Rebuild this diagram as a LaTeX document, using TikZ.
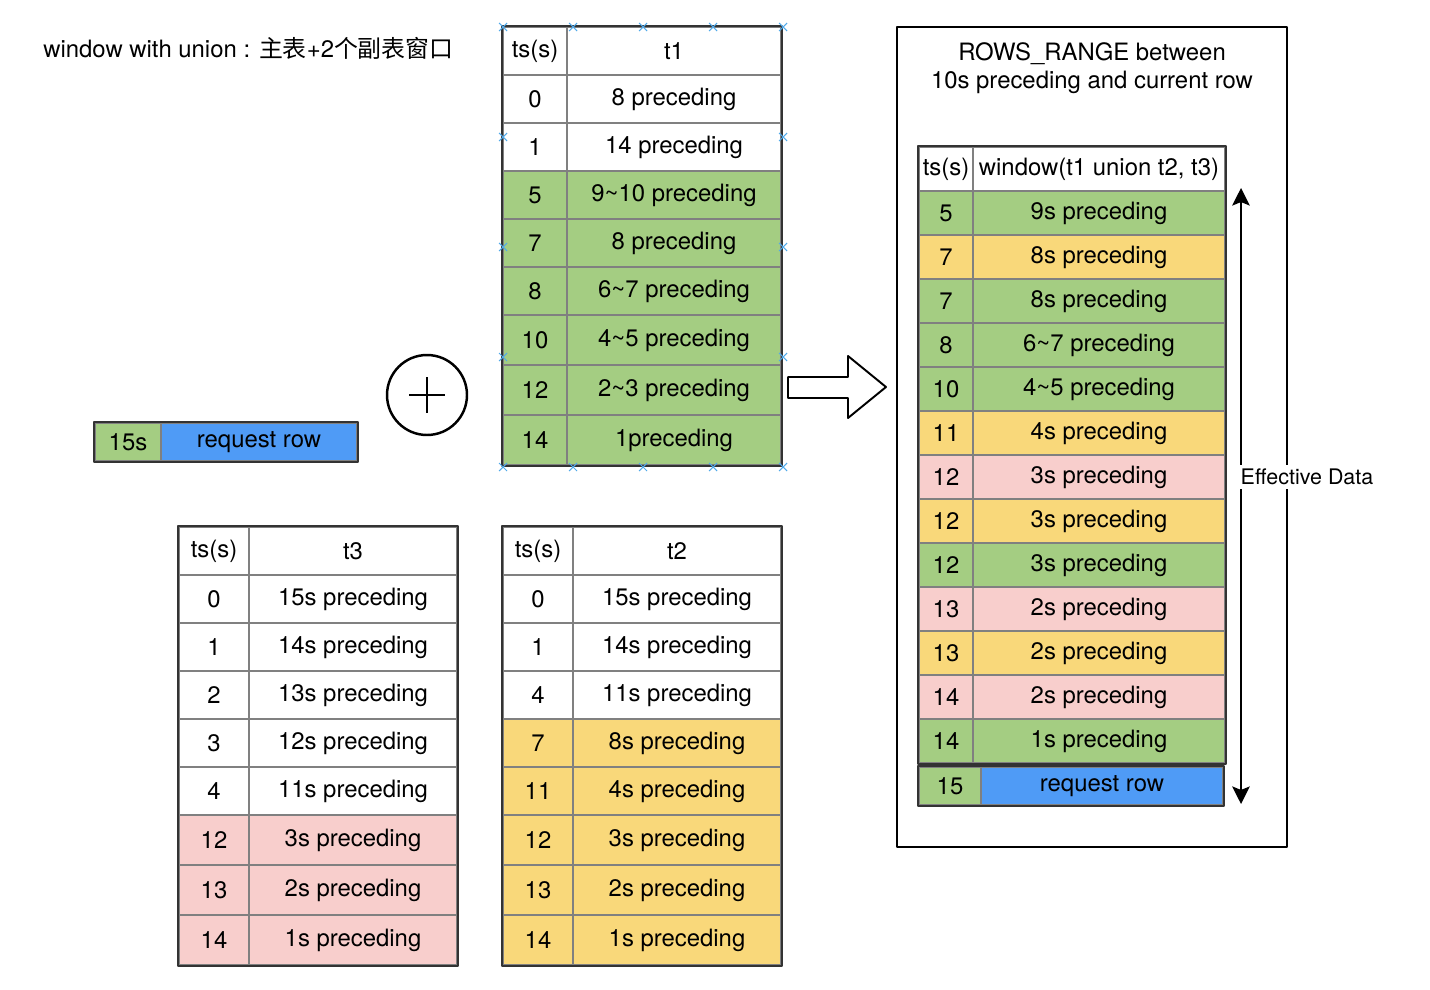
\documentclass[tikz,border=0pt]{standalone}
\usepackage{fontspec}
\setmainfont{TeX Gyre Heros}
\newfontfamily\cjk{Noto Sans CJK SC}
\usepackage{xcolor}
\usetikzlibrary{arrows.meta,calc,positioning}

\definecolor{cellgreen}{RGB}{164,205,130}
\definecolor{cellyellow}{RGB}{249,216,122}
\definecolor{cellpink}{RGB}{248,206,204}
\definecolor{cellblue}{RGB}{79,155,246}
\definecolor{gridgray}{RGB}{128,128,128}
\definecolor{edgedark}{RGB}{51,51,51}
\definecolor{handleblue}{RGB}{80,170,235}

\begin{document}
\begin{tikzpicture}[x=0.02cm,y=-0.02cm,>=Stealth,line join=round,
  font=\fontsize{13.6}{16}\selectfont,
  cell/.style={draw=gridgray,line width=0.8pt,inner sep=0pt,fill=white,minimum height=0.96cm},
  tall/.style={minimum height=1cm},
  gfill/.style={fill=cellgreen},
  yfill/.style={fill=cellyellow},
  pfill/.style={fill=cellpink},
  bfill/.style={fill=cellblue},
  outer/.style={draw=edgedark,line width=1.1pt},
  handle/.style={draw=handleblue,line width=0.6pt}]

  \useasboundingbox (0,0) rectangle (1430,990);

  % title
  \node[anchor=west,inner sep=0pt] (title) at (43,48) {window with union : {\cjk 主表}+2{\cjk 个副表窗口}};

  %% ---------------------------------------------------------------
  %% table t1 (main table)
  %% ---------------------------------------------------------------
  \begin{scope}[tscol/.style={cell,minimum width=1.28cm},valcol/.style={cell,minimum width=4.28cm}]
    \node[tscol] (t1a0) at (535,51) {ts(s)};
    \node[valcol] (t1b0) at (674,51) {t1};
    \node[tscol] (t1a1) at (535,99) {0};
    \node[valcol] (t1b1) at (674,99) {8 preceding};
    \node[tscol] (t1a2) at (535,147) {1};
    \node[valcol] (t1b2) at (674,147) {14 preceding};
    \node[tscol,gfill] (t1a3) at (535,195) {5};
    \node[valcol,gfill] (t1b3) at (674,195) {9\textasciitilde10 preceding};
    \node[tscol,gfill] (t1a4) at (535,243) {7};
    \node[valcol,gfill] (t1b4) at (674,243) {8 preceding};
    \node[tscol,gfill] (t1a5) at (535,291) {8};
    \node[valcol,gfill] (t1b5) at (674,291) {6\textasciitilde7 preceding};
    \node[tscol,gfill,tall] (t1a6) at (535,340) {10};
    \node[valcol,gfill,tall] (t1b6) at (674,340) {4\textasciitilde5 preceding};
    \node[tscol,gfill,tall] (t1a7) at (535,390) {12};
    \node[valcol,gfill,tall] (t1b7) at (674,390) {2\textasciitilde3 preceding};
    \node[tscol,gfill,tall] (t1a8) at (535,440) {14};
    \node[valcol,gfill,tall] (t1b8) at (674,440) {1preceding};
    \draw[outer] (t1a0.north west) rectangle (t1b8.south east);
    % selection handles
    \draw[handle] (503,27) +(-4,-4) -- +(4,4) +(-4,4) -- +(4,-4);
    \draw[handle] (573,27) +(-4,-4) -- +(4,4) +(-4,4) -- +(4,-4);
    \draw[handle] (643,27) +(-4,-4) -- +(4,4) +(-4,4) -- +(4,-4);
    \draw[handle] (713,27) +(-4,-4) -- +(4,4) +(-4,4) -- +(4,-4);
    \draw[handle] (783,27) +(-4,-4) -- +(4,4) +(-4,4) -- +(4,-4);
    \draw[handle] (503,137) +(-4,-4) -- +(4,4) +(-4,4) -- +(4,-4);
    \draw[handle] (783,137) +(-4,-4) -- +(4,4) +(-4,4) -- +(4,-4);
    \draw[handle] (503,247) +(-4,-4) -- +(4,4) +(-4,4) -- +(4,-4);
    \draw[handle] (783,247) +(-4,-4) -- +(4,4) +(-4,4) -- +(4,-4);
    \draw[handle] (503,357) +(-4,-4) -- +(4,4) +(-4,4) -- +(4,-4);
    \draw[handle] (783,357) +(-4,-4) -- +(4,4) +(-4,4) -- +(4,-4);
    \draw[handle] (503,467) +(-4,-4) -- +(4,4) +(-4,4) -- +(4,-4);
    \draw[handle] (573,467) +(-4,-4) -- +(4,4) +(-4,4) -- +(4,-4);
    \draw[handle] (643,467) +(-4,-4) -- +(4,4) +(-4,4) -- +(4,-4);
    \draw[handle] (713,467) +(-4,-4) -- +(4,4) +(-4,4) -- +(4,-4);
    \draw[handle] (783,467) +(-4,-4) -- +(4,4) +(-4,4) -- +(4,-4);
  \end{scope}

  %% ---------------------------------------------------------------
  %% request row + union sign
  %% ---------------------------------------------------------------
  \node[cell,gfill,minimum width=1.32cm,minimum height=0.76cm] (reqa) at (128,442) {15s};
  \node[cell,bfill,minimum width=3.92cm,minimum height=0.76cm] (reqb) at (259,442) {request row};
  \draw[outer] (reqa.north west) rectangle (reqb.south east);

  \node[circle,draw,line width=1.4pt,minimum size=1.6cm] (plus) at (427,395) {};
  \draw[line width=1.5pt] (409,395) -- (445,395) (427,377) -- (427,413);

  %% ---------------------------------------------------------------
  %% table t3
  %% ---------------------------------------------------------------
  \begin{scope}[tscol/.style={cell,minimum width=1.4cm},valcol/.style={cell,minimum width=4.16cm}]
    \node[tscol] (t3a0) at (214,551) {ts(s)};
    \node[valcol] (t3b0) at (353,551) {t3};
    \node[tscol] (t3a1) at (214,599) {0};
    \node[valcol] (t3b1) at (353,599) {15s preceding};
    \node[tscol] (t3a2) at (214,647) {1};
    \node[valcol] (t3b2) at (353,647) {14s preceding};
    \node[tscol] (t3a3) at (214,695) {2};
    \node[valcol] (t3b3) at (353,695) {13s preceding};
    \node[tscol] (t3a4) at (214,743) {3};
    \node[valcol] (t3b4) at (353,743) {12s preceding};
    \node[tscol] (t3a5) at (214,791) {4};
    \node[valcol] (t3b5) at (353,791) {11s preceding};
    \node[tscol,pfill,tall] (t3a6) at (214,840) {12};
    \node[valcol,pfill,tall] (t3b6) at (353,840) {3s preceding};
    \node[tscol,pfill,tall] (t3a7) at (214,890) {13};
    \node[valcol,pfill,tall] (t3b7) at (353,890) {2s preceding};
    \node[tscol,pfill,tall] (t3a8) at (214,940) {14};
    \node[valcol,pfill,tall] (t3b8) at (353,940) {1s preceding};
    \draw[outer] (t3a0.north west) rectangle (t3b8.south east);
  \end{scope}

  %% ---------------------------------------------------------------
  %% table t2
  %% ---------------------------------------------------------------
  \begin{scope}[tscol/.style={cell,minimum width=1.4cm},valcol/.style={cell,minimum width=4.16cm}]
    \node[tscol] (t2a0) at (538,551) {ts(s)};
    \node[valcol] (t2b0) at (677,551) {t2};
    \node[tscol] (t2a1) at (538,599) {0};
    \node[valcol] (t2b1) at (677,599) {15s preceding};
    \node[tscol] (t2a2) at (538,647) {1};
    \node[valcol] (t2b2) at (677,647) {14s preceding};
    \node[tscol] (t2a3) at (538,695) {4};
    \node[valcol] (t2b3) at (677,695) {11s preceding};
    \node[tscol,yfill] (t2a4) at (538,743) {7};
    \node[valcol,yfill] (t2b4) at (677,743) {8s preceding};
    \node[tscol,yfill] (t2a5) at (538,791) {11};
    \node[valcol,yfill] (t2b5) at (677,791) {4s preceding};
    \node[tscol,yfill,tall] (t2a6) at (538,840) {12};
    \node[valcol,yfill,tall] (t2b6) at (677,840) {3s preceding};
    \node[tscol,yfill,tall] (t2a7) at (538,890) {13};
    \node[valcol,yfill,tall] (t2b7) at (677,890) {2s preceding};
    \node[tscol,yfill,tall] (t2a8) at (538,940) {14};
    \node[valcol,yfill,tall] (t2b8) at (677,940) {1s preceding};
    \draw[outer] (t2a0.north west) rectangle (t2b8.south east);
  \end{scope}

  %% ---------------------------------------------------------------
  %% block arrow
  %% ---------------------------------------------------------------
  \draw[line width=1.1pt,fill=white] (788,377) -- (848,377) -- (848,356) -- (886,387)
    -- (848,418) -- (848,398) -- (788,398) -- cycle;

  %% ---------------------------------------------------------------
  %% result window
  %% ---------------------------------------------------------------
  \draw[line width=1.1pt] (897,27) rectangle (1287,847);
  \node[align=center,font=\fontsize{13.6}{15.9}\selectfont] (rtitle) at (1092,68)
    {ROWS\_RANGE between\\10s preceding and current row};

  \begin{scope}[tscol/.style={cell,minimum width=1.08cm,minimum height=0.88cm},
    valcol/.style={cell,minimum width=5.04cm,minimum height=0.88cm}]
    \node[tscol] (ra0) at (946,169) {ts(s)};
    \node[valcol] (rb0) at (1099,169) {window(t1 union t2, t3)};
    \node[tscol,gfill] (ra1) at (946,213) {5};
    \node[valcol,gfill] (rb1) at (1099,213) {9s preceding};
    \node[tscol,yfill] (ra2) at (946,257) {7};
    \node[valcol,yfill] (rb2) at (1099,257) {8s preceding};
    \node[tscol,gfill] (ra3) at (946,301) {7};
    \node[valcol,gfill] (rb3) at (1099,301) {8s preceding};
    \node[tscol,gfill] (ra4) at (946,345) {8};
    \node[valcol,gfill] (rb4) at (1099,345) {6\textasciitilde7 preceding};
    \node[tscol,gfill] (ra5) at (946,389) {10};
    \node[valcol,gfill] (rb5) at (1099,389) {4\textasciitilde5 preceding};
    \node[tscol,yfill] (ra6) at (946,433) {11};
    \node[valcol,yfill] (rb6) at (1099,433) {4s preceding};
    \node[tscol,pfill] (ra7) at (946,477) {12};
    \node[valcol,pfill] (rb7) at (1099,477) {3s preceding};
    \node[tscol,yfill] (ra8) at (946,521) {12};
    \node[valcol,yfill] (rb8) at (1099,521) {3s preceding};
    \node[tscol,gfill] (ra9) at (946,565) {12};
    \node[valcol,gfill] (rb9) at (1099,565) {3s preceding};
    \node[tscol,pfill] (ra10) at (946,609) {13};
    \node[valcol,pfill] (rb10) at (1099,609) {2s preceding};
    \node[tscol,yfill] (ra11) at (946,653) {13};
    \node[valcol,yfill] (rb11) at (1099,653) {2s preceding};
    \node[tscol,pfill] (ra12) at (946,697) {14};
    \node[valcol,pfill] (rb12) at (1099,697) {2s preceding};
    \node[tscol,gfill] (ra13) at (946,741) {14};
    \node[valcol,gfill] (rb13) at (1099,741) {1s preceding};
    \draw[outer] (ra0.north west) rectangle (rb13.south east);
  \end{scope}

  % current request row
  \node[cell,gfill,minimum width=1.24cm,minimum height=0.76cm] (rqa) at (950,786) {15};
  \node[cell,bfill,minimum width=4.84cm,minimum height=0.76cm] (rqb) at (1102,786) {request row};
  \draw[outer] (rqa.north west) rectangle (rqb.south east);

  % effective data span
  \coordinate (effTop) at (1241,188);
  \coordinate (effBot) at (1241,804);
  \draw[line width=0.9pt,{Stealth[width=10pt,length=10pt,inset=2pt]}-{Stealth[width=10pt,length=10pt,inset=2pt]}]
    (effTop) -- (effBot);
  \node[fill=white,inner sep=2pt,font=\fontsize{12.2}{14}\selectfont] (effLbl) at (1307,477) {Effective Data};

\end{tikzpicture}
\end{document}
